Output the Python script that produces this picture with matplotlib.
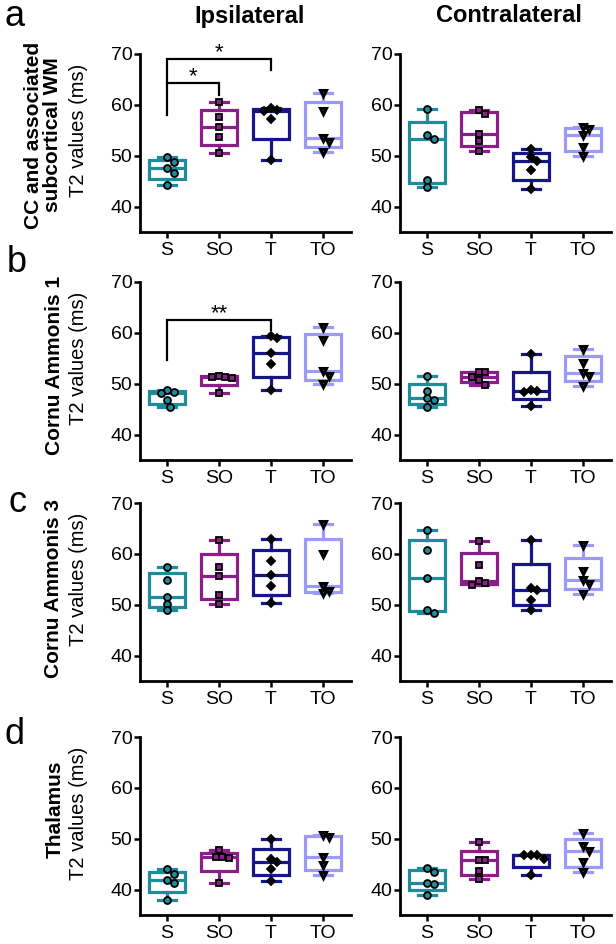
"""T2 values per region, ipsilateral vs contralateral, as GraphPad-style box plots."""

import matplotlib

matplotlib.use("Agg")
import matplotlib.pyplot as plt
import numpy as np

groups = ["S", "SO", "T", "TO"]
sides = ["Ipsilateral", "Contralateral"]
regions = ["CC and associated\nsubcortical WM", "Cornu Ammonis 1", "Cornu Ammonis 3", "Thalamus"]
panel_letters = ["a", "b", "c", "d"]

# T2 values (ms), one list per group in the order S, SO, T, TO
cc_ipsi = [[49.8, 48.7, 47.6, 46.6, 44.3], [60.5, 57.6, 55.6, 53.7, 50.5],
           [59.3, 59.0, 58.7, 57.3, 49.1], [62.4, 58.7, 53.5, 52.6, 50.8]]
cc_contra = [[59.1, 54.0, 53.3, 45.2, 43.9], [58.9, 58.3, 54.3, 52.8, 51.0],
             [51.3, 49.7, 48.9, 47.1, 43.5], [55.6, 55.2, 54.1, 51.7, 50.0]]
ca1_ipsi = [[48.7, 48.3, 48.2, 46.7, 45.5], [51.6, 51.4, 51.3, 51.2, 48.1],
            [59.3, 58.9, 56.0, 53.8, 48.8], [61.1, 58.5, 52.5, 51.6, 50.0]]
ca1_contra = [[51.5, 48.5, 47.2, 46.7, 45.5], [52.4, 52.3, 51.3, 50.8, 49.8],
              [55.8, 48.8, 48.5, 48.3, 45.7], [56.9, 54.0, 52.1, 51.6, 49.5]]
ca3_ipsi = [[57.5, 54.8, 51.6, 50.2, 48.9], [62.7, 57.4, 55.6, 52.0, 50.2],
            [62.9, 58.5, 55.9, 53.6, 50.3], [65.9, 60.0, 53.6, 52.6, 52.3]]
ca3_contra = [[64.6, 60.8, 55.3, 49.0, 48.4], [62.5, 57.9, 54.7, 54.3, 53.9],
              [62.8, 53.3, 52.8, 50.9, 48.9], [61.8, 56.6, 54.9, 54.1, 52.2]]
thal_ipsi = [[44.1, 43.0, 41.8, 41.2, 38.0], [47.7, 46.5, 46.4, 46.3, 41.2],
             [49.9, 46.1, 45.4, 44.0, 41.6], [50.7, 50.3, 46.4, 44.8, 42.8]]
thal_contra = [[44.3, 43.5, 41.3, 41.0, 39.0], [49.3, 45.9, 45.8, 43.7, 42.1],
               [46.8, 46.7, 46.7, 46.1, 42.9], [51.2, 48.5, 47.5, 45.4, 43.5]]

rows = [(cc_ipsi, cc_contra), (ca1_ipsi, ca1_contra), (ca3_ipsi, ca3_contra), (thal_ipsi, thal_contra)]

# significance brackets: (row, group from, group to, label)
brackets = [(0, 0, 1, "*"), (0, 0, 2, "*"), (1, 0, 2, "**")]

colors = ["#1e8c9b", "#8c1e8c", "#16168a", "#9b9bf7"]
markers = ["o", "s", "D", "v"]
marker_faces = ["#1e8c9b", "#8c1e8c", "black", "#7c7cc8"]
marker_sizes = [5.0, 4.8, 4.2, 5.0]
marker_edges = [1.3, 1.3, 1.3, 2.2]

FONT = "Liberation Sans"
W, H = 616, 944
AX_TOPS = [54, 282, 503, 737]
AX_LEFTS = [140, 400]
AX_W, AX_H = 211, 178


def swarm(values, x_px=52.0, y_px=5.1, size=6.5):
    """Spread points horizontally so markers do not overlap (in data units)."""
    placed = []
    offsets = np.zeros(len(values))
    for i in np.argsort(values)[::-1]:
        y = values[i] * y_px
        for k in [0, 1, -1, 2, -2, 3, -3, 4, -4]:
            dx = k * size / 2
            if all(np.hypot(dx - px, y - py) >= size for px, py in placed):
                break
        placed.append((dx, y))
        offsets[i] = dx / x_px
    return offsets


def draw_panel(ax, data):
    stats = []
    for vals in data:
        q1, med, q3 = np.percentile(vals, [25, 50, 75], method="weibull")
        stats.append(dict(med=med, q1=q1, q3=q3, whislo=min(vals), whishi=max(vals), fliers=[]))
    lw = 2.3
    art = ax.bxp(stats, positions=range(len(groups)), widths=0.7, capwidths=0.36,
                 showfliers=False, patch_artist=True)
    for i, c in enumerate(colors):
        art["boxes"][i].set(facecolor="white", edgecolor=c, linewidth=lw, joinstyle="miter")
        art["medians"][i].set(color=c, linewidth=lw)
        for part in ("whiskers", "caps"):
            for line in art[part][2 * i:2 * i + 2]:
                line.set(color=c, linewidth=lw)

    for i, vals in enumerate(data):
        xs = i + swarm(vals)
        ax.plot(xs, vals, linestyle="none", marker=markers[i], markersize=marker_sizes[i],
                markerfacecolor=marker_faces[i], markeredgecolor="black",
                markeredgewidth=marker_edges[i], zorder=5)

    ax.set_xlim(-0.52, 3.54)
    ax.set_ylim(35, 70)
    ax.set_yticks([40, 50, 60, 70])
    ax.set_xticks(range(len(groups)))
    ax.set_xticklabels(groups)
    for side in ("top", "right"):
        ax.spines[side].set_visible(False)
    for side in ("left", "bottom"):
        ax.spines[side].set_linewidth(2.0)
    ax.tick_params(axis="both", length=4, width=1.8, labelsize=14)
    ax.tick_params(axis="y", pad=1.5)
    ax.tick_params(axis="x", pad=3)


def draw_bracket(ax, a, b, label, top, drop_a, drop_b, text_y):
    ax.plot([a, a, b, b], [drop_a, top, top, drop_b], color="black", linewidth=1.6,
            clip_on=False, solid_joinstyle="miter")
    ax.text((a + b) / 2, text_y, label, ha="center", va="center", fontsize=16,
            clip_on=False)


def main():
    plt.rcParams["font.family"] = [FONT, "DejaVu Sans"]
    fig = plt.figure(figsize=(W / 100, H / 100), dpi=100)

    axes = []
    for r, pair in enumerate(rows):
        row_axes = []
        for s, data in enumerate(pair):
            rect = [AX_LEFTS[s] / W, 1 - (AX_TOPS[r] + AX_H) / H, AX_W / W, AX_H / H]
            ax = fig.add_axes(rect)
            draw_panel(ax, data)
            if s == 0:
                ax.set_ylabel("T2 values (ms)", fontsize=14.5)
                ax.yaxis.set_label_coords(-0.245, (55 - 35) / 35)
            row_axes.append(ax)
        axes.append(row_axes)

    # bracket geometry (data units) for each comparison
    bracket_geom = {
        (0, 0, 1): (64.3, 58.0, 62.0, 65.5),
        (0, 0, 2): (69.0, 64.3, 66.9, 70.3),
        (1, 0, 2): (62.6, 54.7, 60.6, 63.8),
    }
    for r, a, b, label in brackets:
        draw_bracket(axes[r][0], a, b, label, *bracket_geom[(r, a, b)])

    for s, title in enumerate(sides):
        x = [250, 509][s]
        fig.text(x / W, 1 - 16 / H, title, ha="center", va="center",
                 fontsize=17, fontweight="bold")

    letter_pos = [(15, 17), (17, 263), (17, 503), (15, 734)]
    label_pos = [(43, 135), (55, 365), (54, 588), (55, 809)]
    for r in range(len(regions)):
        lx, ly = letter_pos[r]
        fig.text(lx / W, 1 - ly / H, panel_letters[r], ha="center", va="center", fontsize=26)
        tx, ty = label_pos[r]
        fig.text(tx / W, 1 - ty / H, regions[r], ha="center", va="center", rotation=90,
                 fontsize=15, fontweight="bold", linespacing=1.05)

    fig.savefig("out.png", dpi=100)


if __name__ == "__main__":
    main()
